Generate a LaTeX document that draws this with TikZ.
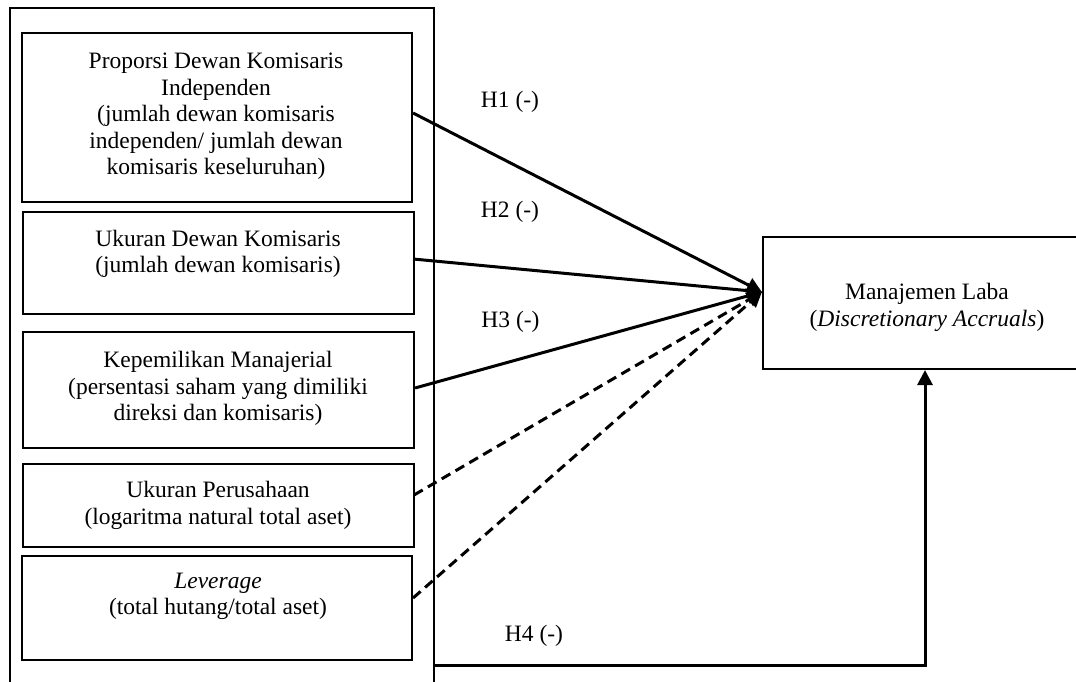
\documentclass[tikz,border=0pt]{standalone}
\usepackage{fontspec}
\setmainfont{Liberation Serif}
\usetikzlibrary{arrows.meta}
\begin{document}
\begin{tikzpicture}[x=1pt,y=-1pt,
  every node/.style={font=\fontsize{23.5}{26.5}\selectfont},
  box/.style={draw, line width=2.1pt, inner sep=0pt, minimum width=#1},
  txt/.style={align=center, inner sep=0pt},
  lbl/.style={anchor=base, inner sep=0pt},
  conn/.style={line width=3pt, -{Triangle[length=15pt,width=15pt]}},
  dconn/.style={conn, dash pattern=on 10pt off 6pt}]
\useasboundingbox (0,0) rectangle (1076,682);
\begin{scope}
\clip (0,0) rectangle (1076,682);
% outer frame
\node[box=424pt, minimum height=682pt] (O) at (222,349) {};
% inner boxes
\node[box=390pt, minimum height=169pt] (b1) at (217,117.5) {};
\node[box=391pt, minimum height=102pt] (b2) at (218.5,263) {};
\node[box=391pt, minimum height=116pt] (b3) at (218.5,390) {};
\node[box=391pt, minimum height=83pt] (b4) at (218.5,505.5) {};
\node[box=390pt, minimum height=104pt] (b5) at (217,608) {};
% right box
\node[box=322pt, minimum height=132pt] (R) at (924,303) {};
\end{scope}
% texts
\node[txt] (t1) at (216,116.5) {Proporsi Dewan Komisaris\\Independen\\(jumlah dewan komisaris\\independen/ jumlah dewan\\komisaris keseluruhan)};
\node[txt] (t2) at (218,254) {Ukuran Dewan Komisaris\\(jumlah dewan komisaris)};
\node[txt] (t3) at (218,388.5) {Kepemilikan Manajerial\\(persentasi saham yang dimiliki\\direksi dan komisaris)};
\node[txt] (t4) at (218,505.5) {Ukuran Perusahaan\\(logaritma natural total aset)};
\node[txt] (t5) at (218,596.5) {\textit{Leverage}\\(total hutang/total aset)};
\node[txt] (tR) at (927,307.5) {Manajemen Laba\\(\textit{Discretionary Accruals})};
% labels
\node[lbl] (h1) at (510,108) {H1 (-)};
\node[lbl] (h2) at (510,217) {H2 (-)};
\node[lbl] (h3) at (510.5,327) {H3 (-)};
\node[lbl] (h4) at (534,641) {H4 (-)};
% connectors
\coordinate (tip) at ([yshift=11pt]R.west);
\draw[conn] ([yshift=4.5pt]b1.east) -- (tip);
\draw[conn] ([yshift=4pt,xshift=-2pt]b2.east) -- (tip);
\draw[conn] ([yshift=2pt]b3.east) -- (tip);
\draw[dconn] ([yshift=10.5pt,xshift=-1pt]b4.east) -- (tip);
\draw[dconn] ([yshift=10pt]b5.east) -- (tip);
\coordinate (corner) at (925,665);
\draw[conn] (O.east |- corner) -- (corner) -- (R.south -| corner);
\end{tikzpicture}
\end{document}
